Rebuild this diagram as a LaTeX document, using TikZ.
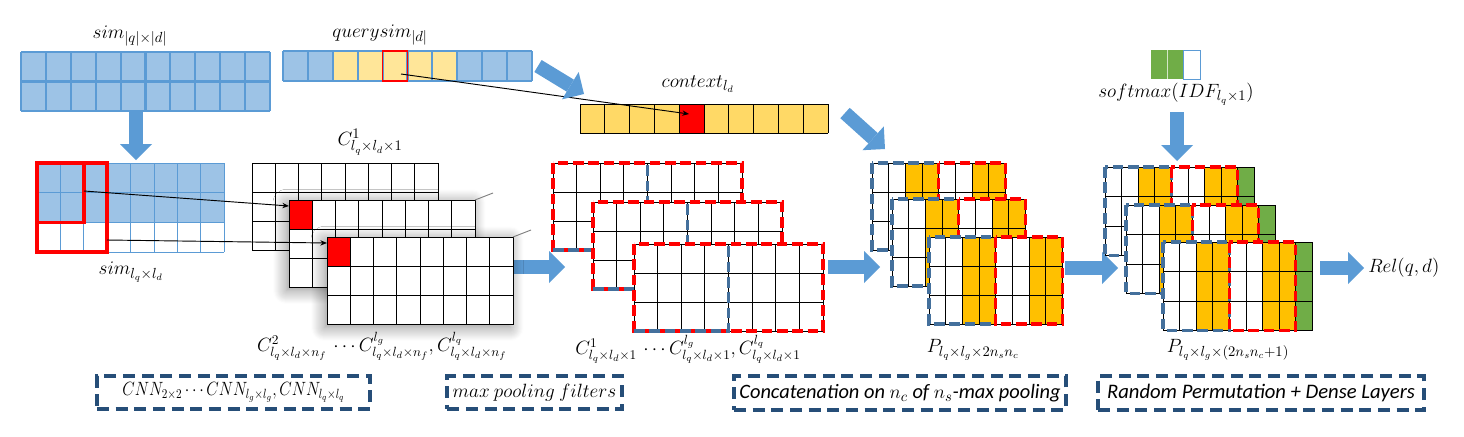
\documentclass[tikz,border=0pt]{standalone}
\usepackage{fontspec}
\setmainfont{Carlito}
\usetikzlibrary{arrows.meta,shadows.blur}
\definecolor{lblue}{HTML}{9DC3E6}
\definecolor{mblue}{HTML}{5B9BD5}
\definecolor{qyel}{HTML}{FFE699}
\definecolor{cyel}{HTML}{FFD966}
\definecolor{orng}{HTML}{FFC000}
\definecolor{grn}{HTML}{70AD47}
\definecolor{dblue}{HTML}{44709C}
\definecolor{nblue}{HTML}{264E78}
\newcommand{\gridlines}[7]{%
  \foreach \i in {0,...,#3} {\draw[#7] ({#1+\i*#5},#2) -- ({#1+\i*#5},{#2+#4*#6});}
  \foreach \j in {0,...,#4} {\draw[#7] (#1,{#2+\j*#6}) -- ({#1+#3*#5},{#2+\j*#6});}
}
\newcommand{\ccard}[2]{%
  \fill[white] (#1,#2) rectangle ++(186,88);
  \gridlines{#1}{#2}{8}{3}{23.25}{29.33}{thinblack}
}
\newcommand{\midcard}[2]{%
  \fill[white] (#1,#2) rectangle ++(189,87);
  \gridlines{#1}{#2}{8}{3}{23.625}{29}{thinblack}
  \draw[rdash] (#1,#2) rectangle ++(189,87);
  \draw[bdash] (#1,#2+87) -- ++(94.5,0) -- ++(0,-87);
}
\newcommand{\pcard}[2]{%
  \fill[white] (#1,#2) rectangle ++(133.6,87);
  \fill[orng] (#1+33.4,#2) rectangle ++(33.4,87);
  \fill[orng] (#1+100.2,#2) rectangle ++(33.4,87);
  \gridlines{#1}{#2}{8}{3}{16.7}{29}{thinblack}
  \draw[bdash] (#1,#2) rectangle ++(66.8,87);
  \draw[rdash] (#1+66.8,#2) rectangle ++(66.8,87);
}
\newcommand{\rcard}[2]{%
  \fill[white] (#1,#2) rectangle ++(149.4,88.5);
  \fill[orng] (#1+33.2,#2) rectangle ++(33.2,88.5);
  \fill[orng] (#1+99.6,#2) rectangle ++(33.2,88.5);
  \fill[grn] (#1+132.8,#2) rectangle ++(16.6,88.5);
  \gridlines{#1}{#2}{9}{3}{16.6}{29.5}{thinblack}
  \draw[bdash] (#1,#2) rectangle ++(66.4,88.5);
  \draw[rdash] (#1+66.4,#2) rectangle ++(66.4,88.5);
}
\begin{document}
\begin{tikzpicture}[x=0.75pt,y=-0.75pt,
  thinblack/.style={draw=black,line width=0.75pt},
  thinblue/.style={draw=mblue,line width=0.75pt},
  thickblue/.style={draw=mblue,line width=1.6pt},
  rdash/.style={draw=red,line width=2.4pt,dash pattern=on 8pt off 3.5pt},
  bdash/.style={draw=dblue,line width=2.4pt,dash pattern=on 8pt off 3.5pt},
  redbox/.style={draw=red,line width=2.6pt},
  blockarr/.style={draw=mblue,line width=10.5pt,-{Triangle[length=12pt 0 0,width=24pt 0 0,line width=0pt 0 0]}},
  conn/.style={draw=black,line width=0.7pt,-{Stealth[length=5pt 0 0,width=4pt 0 0]}},
  lbl/.style={font=\fontsize{15}{17}\selectfont,inner sep=0pt},
  longlbl/.style={font=\fontsize{14.3}{17}\selectfont,inner sep=0pt},
  shadowcard/.style={fill=white,blur shadow={shadow xshift=-2pt,shadow yshift=-2pt,shadow blur radius=10pt,shadow blur steps=14,shadow opacity=45}},
  stepbox/.style={draw=nblue,line width=3pt,dash pattern=on 9pt off 5pt,inner sep=0pt}]
\useasboundingbox (0,0) rectangle (1464,436);

% ---- sim |q|x|d|
\fill[lblue] (21,52) rectangle (270,111);
\gridlines{21}{52}{10}{2}{24.9}{29.5}{thickblue}
\node[lbl] (simtop) at (130,36) {$sim_{|q|\times|d|}$};

% ---- querysim
\fill[lblue] (283,51) rectangle ++(49.8,30);
\fill[qyel] (332.8,51) rectangle ++(124.5,30);
\fill[lblue] (457.3,51) rectangle ++(74.7,30);
\gridlines{283}{51}{10}{1}{24.9}{30}{thickblue}
\draw[red,line width=0.9pt] (382.6,51) rectangle ++(24.9,30);
\node[lbl] (qslbl) at (380,35) {$querysim_{|d|}$};

% ---- context
\fill[cyel] (580,104) rectangle ++(248,29);
\fill[red] (679.2,104) rectangle ++(24.8,29);
\gridlines{580}{104}{10}{1}{24.8}{29}{thinblack}
\node[lbl] (ctxlbl) at (698,84) {$context_{l_d}$};

\coordinate (qs) at (401,74);
\coordinate (ctx) at (689,114);
\draw[conn] (qs) -- (ctx);

% ---- big arrows
\coordinate (a1s) at (136,112); \coordinate (a1e) at (136,160);
\draw[blockarr] (a1s) -- (a1e);
\coordinate (a2s) at (538,66); \coordinate (a2e) at (584,94);
\draw[blockarr] (a2s) -- (a2e);
\coordinate (a3s) at (845,113); \coordinate (a3e) at (885,149);
\draw[blockarr] (a3s) -- (a3e);
\coordinate (a4s) at (1177,112); \coordinate (a4e) at (1177,161);
\draw[blockarr] (a4s) -- (a4e);
\coordinate (r1s) at (513,267); \coordinate (r1e) at (565,267);
\draw[blockarr] (r1s) -- (r1e);
\coordinate (r2s) at (828,267); \coordinate (r2e) at (880,267);
\draw[blockarr] (r2s) -- (r2e);
\coordinate (r3s) at (1065,268); \coordinate (r3e) at (1118,268);
\draw[blockarr] (r3s) -- (r3e);
\coordinate (r4s) at (1320,268); \coordinate (r4e) at (1364,268);
\draw[blockarr] (r4s) -- (r4e);

% ---- sim lq x ld
\fill[lblue] (37,163) rectangle ++(187.2,59.4);
\gridlines{37}{163}{8}{3}{23.4}{29.7}{thinblue}
\draw[redbox] (37,163) rectangle ++(70.2,89.1);
\draw[redbox] (37,163) rectangle ++(46.8,59.4);
\node[lbl] (simlbl) at (131,272) {$sim_{l_q\times l_d}$};

% ---- C cards
\ccard{252}{163}
\node[lbl] (c1lbl) at (370,142) {$C^1_{l_q\times l_d\times 1}$};
\fill[shadowcard] (289,200) rectangle ++(186,88);
\ccard{289}{200}
\fill[red] (289,200) rectangle ++(23.25,29.33);
\gridlines{289}{200}{1}{1}{23.25}{29.33}{thinblack}
\draw[gray,line width=0.7pt] (475,200) -- (493,193);
\fill[shadowcard] (327,237) rectangle ++(186,88);
\ccard{327}{237}
\fill[red] (327,237) rectangle ++(23.25,29.33);
\gridlines{327}{237}{1}{1}{23.25}{29.33}{thinblack}
\draw[gray,line width=0.7pt] (513,237) -- (531,230);

\coordinate (l1s) at (84,191); \coordinate (l1e) at (289,206);
\coordinate (l2s) at (107,240); \coordinate (l2e) at (327,243);
\draw[conn] (l1s) -- (l1e);
\draw[conn] (l2s) -- (l2e);
\node[longlbl] (c2lbl) at (382,346) {$C^2_{l_q\times l_d\times n_f}\,\cdots C^{l_g}_{l_q\times l_d\times n_f},C^{l_q}_{l_q\times l_d\times n_f}$};

% ---- max pooled cards
\midcard{553}{163}
\midcard{593}{202}
\midcard{634}{244}
\node[longlbl] (mlbl) at (688,349) {$C^1_{l_q\times l_d\times 1}\,\cdots C^{l_g}_{l_q\times l_d\times 1},C^{l_q}_{l_q\times l_d\times 1}$};

% ---- P cards
\pcard{872}{163}
\pcard{892}{199}
\pcard{929}{237}
\node[lbl] (plbl) at (973,350) {$P_{l_q\times l_g\times 2n_sn_c}$};

% ---- softmax vector
\fill[grn] (1151,50) rectangle ++(32.8,29);
\draw[white!70!grn,line width=0.6pt] (1167.4,50) -- ++(0,29);
\draw[thinblue] (1183.8,50) rectangle ++(16.4,29);
\node[lbl] (smlbl) at (1176,94) {$softmax(IDF_{l_q\times 1})$};

% ---- final cards
\rcard{1105}{167}
\rcard{1126}{205}
\rcard{1163}{242}
\node[lbl] (p2lbl) at (1228,350) {$P_{l_q\times l_g\times(2n_sn_c+1)}$};

\node[lbl,anchor=west] (rel) at (1368,268) {$Rel(q,d)$};

% ---- step boxes
\node[stepbox,minimum width=205pt,minimum height=24.5pt,font=\fontsize{14.5}{16}\selectfont] (b1) at (233.5,392.5) {\scalebox{0.84}[1]{$CNN_{2\times 2}\cdots CNN_{l_g\times l_g},CNN_{l_q\times l_q}$}};
\node[stepbox,minimum width=131pt,minimum height=24.5pt,font=\fontsize{14.3}{16}\selectfont] (b2) at (534.5,392.5) {$max\ pooling\ filters$};
\node[stepbox,minimum width=249pt,minimum height=25.5pt,font=\fontsize{15.3}{17}\selectfont\itshape] (b3) at (900,393) {Concatenation on $n_c$ of $n_s$-max pooling};
\node[stepbox,minimum width=244.5pt,minimum height=25.5pt,font=\fontsize{15.5}{17}\selectfont\itshape] (b4) at (1261,393) {Random Permutation + Dense Layers};
\end{tikzpicture}
\end{document}
